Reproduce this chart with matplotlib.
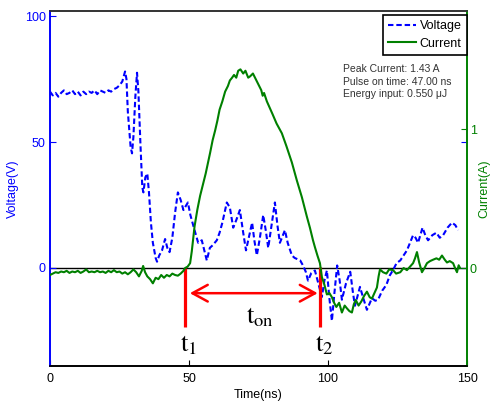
import matplotlib
matplotlib.use("Agg")
import matplotlib.pyplot as plt
from matplotlib.lines import Line2D

plt.rcParams['font.family'] = ['Liberation Sans', 'DejaVu Sans']
plt.rcParams['mathtext.fontset'] = 'stix'

# ---------------- data ----------------
t_v = [0, 1, 2, 3, 4, 5, 6, 7, 8, 9, 10, 11, 12, 13, 14, 15, 16, 17, 18, 19, 20,
       21, 22, 23, 24, 25, 26, 27, 27.5, 28, 29, 29.5, 30, 30.7, 31.3, 31.8, 32.5,
       33.2, 33.6, 34.3, 35, 35.6, 36.3, 37, 38, 38.5, 39.3, 40.3, 41.4, 42.2, 43,
       44, 45, 46, 47, 48, 49.6, 50.5, 52, 53.3, 54.6, 55.5, 56.4, 57.5, 58.5, 60,
       61, 62, 63.6, 64.7, 65.9, 67, 68.3, 69.5, 70.5, 71.5, 72.7, 73.5, 74.4, 75.5,
       76.7, 77.6, 78.5, 79.7, 80.9, 81.8, 82.7, 84.5, 85.5, 87, 88, 89, 90, 91, 92,
       92.8, 94, 95.3, 96.5, 97.8, 98.7, 99.6, 100.5, 101.4, 102.3, 103.3, 104.2,
       105, 106.5, 108, 109, 109.7, 111.5, 112.7, 114, 115.8, 117, 118, 119.5, 121,
       122.2, 123.4, 124.7, 126, 127.2, 128.4, 129.5, 130.6, 131.5, 132.4, 133.2,
       134, 135, 136, 137.5, 139, 140.2, 141.4, 143, 144.6, 145.8, 146.8]
voltage = [70, 68.5, 69.5, 68, 69.5, 70.5, 69, 69.5, 70.5, 69, 70, 68.5, 70, 69, 70,
           69.5, 70.5, 69, 70.5, 70, 69.5, 70.5, 70, 71, 71.5, 72.5, 74, 78, 75, 62,
           48, 45.5, 52, 68, 77.5, 70, 50, 32, 30, 36, 37.5, 30, 18, 10, 4, 2.5, 5, 7,
           11.5, 8, 6.3, 12, 22, 30, 27, 23, 26, 21, 15, 10, 11, 7, 3, 8, 9, 11, 14,
           18, 26, 24, 16, 19, 23, 14, 7, 12, 18, 11, 5, 12, 21, 15, 8, 17, 26, 17, 10,
           15, 10, 5, 4, 3.5, 3, 1, -1.5, -5, -2, -1, -6, -11.5, -5, -1, -12, -21, -10,
           1, -5, -12.6, -6, -1.5, -10, -15, -7.5, -12, -16.6, -12, -13, -12.6, -9,
           -6.7, -3, -0.8, 2, 3, 5, 7, 10, 13, 12, 10, 13, 16, 13, 11, 13, 14, 12, 13,
           16, 18, 17, 15]

t_i = [0, 1, 2, 3, 4, 5, 6, 7, 8, 9, 10, 11, 12, 13, 14, 15, 16, 17, 18, 19, 20, 21,
       22, 23, 24, 25, 26, 27, 28, 29, 30, 31, 32, 33, 33.5, 34.2, 35, 36, 37, 38,
       39, 40, 41, 42, 43, 44, 45, 46, 47, 48, 48.6, 49.5, 50.4, 51, 52, 53, 54, 55,
       56, 57.6, 58.5, 59.4, 60.2, 61, 62, 63, 64, 64.7, 65.5, 66.2, 67, 67.7, 68.5,
       69.5, 70.3, 71.3, 72, 73, 74, 75, 76, 76.5, 77, 78, 80, 81.5, 83.4, 85, 87,
       88.8, 90.6, 92.4, 93.5, 94.6, 95.3, 96.2, 97.1, 97.8, 98.7, 99.6, 100.5,
       101.4, 102.2, 103, 104, 105, 106, 106.8, 107.7, 108.6, 109.3, 110, 111, 112,
       113, 114, 115, 115.8, 116.7, 117.6, 118.2, 118.7, 119.8, 121, 122, 123.4,
       124.5, 126, 127.2, 128.4, 129.5, 130.6, 131.3, 132, 132.8, 133.8, 134.7,
       135.6, 136.7, 137.8, 139, 140, 141, 142, 142.8, 143.8, 145, 145.7, 146.4,
       147, 147.5]
current = [-0.05, -0.04, -0.03, -0.035, -0.025, -0.03, -0.02, -0.035, -0.025, -0.03,
           -0.02, -0.035, -0.025, -0.01, -0.03, -0.025, -0.03, -0.02, -0.03, -0.025,
           -0.035, -0.02, -0.03, -0.015, -0.03, -0.025, -0.04, -0.03, -0.045, -0.03,
           -0.01, -0.03, -0.06, -0.02, 0.015, -0.03, -0.06, -0.08, -0.11, -0.07,
           -0.08, -0.05, -0.07, -0.05, -0.06, -0.04, -0.05, -0.055, -0.04, -0.02,
           0.0, 0.01, 0.035, 0.12, 0.3, 0.42, 0.52, 0.6, 0.68, 0.83, 0.92, 0.99, 1.06,
           1.14, 1.2, 1.27, 1.31, 1.35, 1.37, 1.39, 1.37, 1.42, 1.43, 1.40, 1.42, 1.37,
           1.38, 1.40, 1.36, 1.32, 1.28, 1.24, 1.26, 1.2, 1.11, 1.04, 0.97, 0.88, 0.76,
           0.63, 0.51, 0.37, 0.29, 0.2, 0.15, 0.09, 0.035, -0.065, -0.12, -0.19, -0.18,
           -0.21, -0.25, -0.28, -0.25, -0.32, -0.27, -0.29, -0.31, -0.32, -0.26, -0.23,
           -0.27, -0.24, -0.2, -0.17, -0.21, -0.22, -0.18, -0.14, -0.06, -0.01, -0.03,
           -0.04, -0.01, -0.015, -0.04, -0.03, 0.0, -0.015, 0.01, 0.035, 0.07, 0.115,
           0.04, -0.03, 0.0, 0.035, 0.05, 0.06, 0.07, 0.06, 0.09, 0.06, 0.04, 0.05,
           0.035, 0.0, -0.03, 0.02, 0.0]

t1, t2 = 48.6, 97.2
info_lines = ["Peak Current: 1.43 A", "Pulse on time: 47.00 ns", "Energy input: 0.550 \u03bcJ"]

# ---------------- figure ----------------
BLUE = '#0000ff'
GREEN = '#008000'

fig = plt.figure(figsize=(4.92, 4.04), dpi=100)
ax1 = fig.add_axes([50 / 492, 1 - 366 / 404, 417 / 492, 355 / 404])
ax2 = ax1.twinx()

ax1.axhline(0, color='black', lw=1.0, zorder=1)
ax1.plot(t_v, voltage, color=BLUE, lw=1.5, ls=(0, (2.6, 1.4)), zorder=3)
ax2.plot(t_i, current, color=GREEN, lw=1.5, zorder=3)

ax1.set_xlim(0, 150)
ax1.set_ylim(-38.9, 102)
ax2.set_ylim(-0.705, 1.85)
ax1.set_xticks([0, 50, 100, 150])
ax1.set_yticks([0, 50, 100])
ax2.set_yticks([0, 1])

ax1.tick_params(axis='x', direction='in', length=4, labelsize=9, colors='black', pad=5)
ax1.tick_params(axis='y', direction='in', length=4, labelsize=9, colors=BLUE,
                right=True, labelright=False, pad=3)
ax2.tick_params(axis='y', direction='in', length=4, labelsize=9, colors=GREEN, pad=2)

for ax in (ax1, ax2):
    ax.spines['left'].set_color(BLUE)
    ax.spines['right'].set_color(GREEN)
    ax.spines['top'].set_color('#333333')
    ax.spines['bottom'].set_color('black')
    for s in ax.spines.values():
        s.set_linewidth(1.2)

ax1.set_xlabel('Time(ns)', fontsize=9, labelpad=3)
ax1.set_ylabel('Voltage(V)', fontsize=9, color=BLUE, labelpad=4)
ax2.set_ylabel('Current(A)', fontsize=9, color=GREEN, labelpad=1)

# red annotations (in voltage coordinates)
ax1.plot([t1, t1], [0, -23.5], color='red', lw=2.3, zorder=4, solid_capstyle='butt')
ax1.plot([t2, t2], [0.5, -23.5], color='red', lw=2.3, zorder=4, solid_capstyle='butt')
ax1.annotate('', xy=(50.3, -10), xytext=(96.3, -10),
             arrowprops=dict(arrowstyle='<->, head_length=0.55, head_width=0.3',
                             color='red', lw=1.8, mutation_scale=20,
                             shrinkA=0, shrinkB=0), zorder=4)
ax1.text(75.5, -21.8, r'$\mathrm{t}_{\mathrm{on}}$', fontsize=19, ha='center',
         va='baseline', zorder=5)
ax1.text(t1 + 1.3, -33.3, r'$\mathrm{t}_{1}$', fontsize=19, ha='center',
         va='baseline', zorder=5)
ax1.text(t2 + 1.3, -33.3, r'$\mathrm{t}_{2}$', fontsize=19, ha='center',
         va='baseline', zorder=5)

# info text
ax2.text(0.703, 0.85, "\n".join(info_lines), transform=ax1.transAxes, fontsize=7.5,
         color='#333333', ha='left', va='top', linespacing=1.3)

handles = [Line2D([], [], color=BLUE, lw=1.5, ls=(0, (2.6, 1.4))),
           Line2D([], [], color=GREEN, lw=1.5)]
leg = ax2.legend(handles, ['Voltage', 'Current'], loc='upper right',
                 bbox_to_anchor=(1.0, 0.99), fontsize=9, frameon=True,
                 fancybox=False, edgecolor='black', framealpha=1,
                 handlelength=2.2, handletextpad=0.3, borderpad=0.45,
                 labelspacing=0.45, borderaxespad=0.0)
leg.get_frame().set_linewidth(1.2)

fig.savefig('out.png', dpi=100)
